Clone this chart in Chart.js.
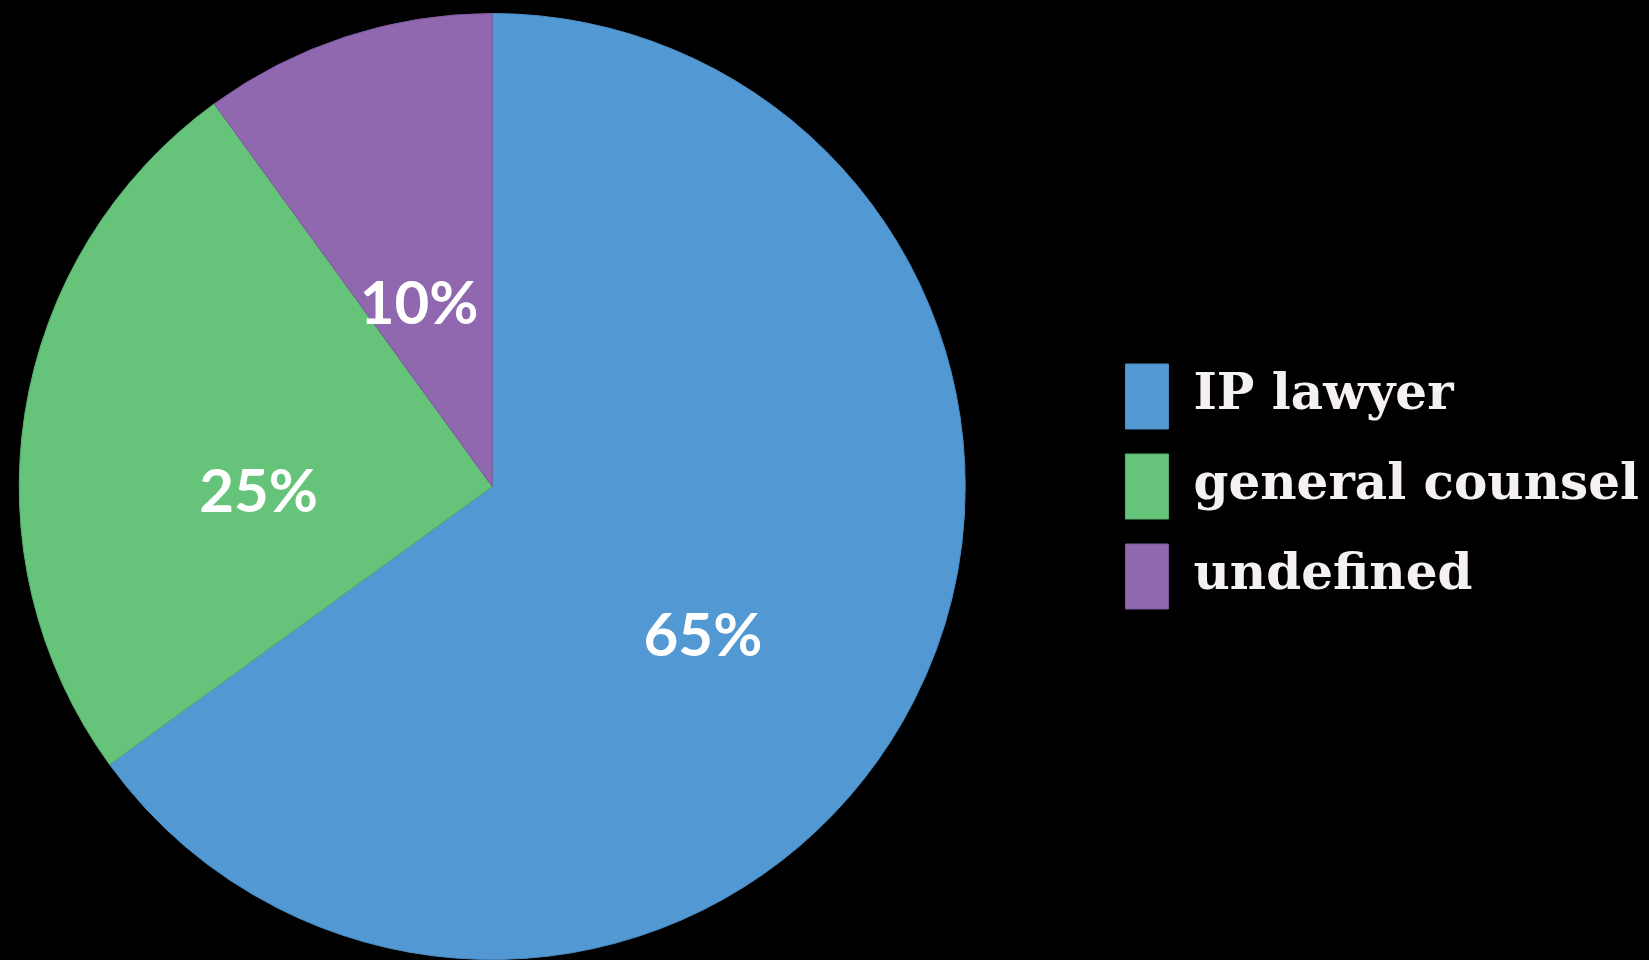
<!DOCTYPE html>
<html>
<head>
<meta charset="utf-8">
<script src="https://cdn.jsdelivr.net/npm/chart.js@4/dist/chart.umd.min.js"></script>
<style>
  html, body { margin: 0; padding: 0; background: #000; }
  #wrap { width: 1649px; height: 960px; position: relative; }
</style>
</head>
<body>
<div id="wrap"><canvas id="c"></canvas></div>
<script>
const categories = ["IP lawyer", "general counsel", "undefined"];
const values = [65, 25, 10];
const sliceColors = ["#5299d3", "#66c47a", "#9068b0"];
const borderColors = ["#4a8cc4", "#57b06b", "#7f5aa0"];

const pctLabels = {
  id: "pctLabels",
  afterDatasetsDraw(chart) {
    const ctx = chart.ctx;
    const meta = chart.getDatasetMeta(0);
    const total = values.reduce((a, b) => a + b, 0);
    ctx.save();
    ctx.fillStyle = "#ffffff";
    ctx.font = "bold 60px Lato";
    ctx.textAlign = "center";
    ctx.textBaseline = "middle";
    meta.data.forEach((arc, i) => {
      const p = arc.tooltipPosition();
      const txt = Math.round(values[i] / total * 100) + "%";
      ctx.fillText(txt, p.x, p.y + 43);
    });
    ctx.restore();
  }
};

new Chart(document.getElementById("c"), {
  type: "pie",
  data: {
    labels: categories,
    datasets: [{
      data: values,
      backgroundColor: sliceColors,
      borderColor: borderColors,
      borderWidth: 1
    }]
  },
  options: {
    responsive: true,
    maintainAspectRatio: false,
    animation: false,
    layout: { padding: { left: 0, right: 0, top: 13, bottom: 0 } },
    plugins: {
      tooltip: { enabled: false },
      title: {
        display: true,
        position: "right",
        text: "",
        padding: 0,
        font: { size: 100, lineHeight: 1.16 }
      },
      legend: {
        position: "right",
        align: "center",
        weight: 3000,
        maxWidth: 700,
        labels: {
          color: "#f6f1f1",
          font: { family: "DejaVu Serif", size: 50, weight: "bold" },
          boxWidth: 43,
          boxHeight: 65,
          padding: 25
        }
      }
    }
  },
  plugins: [pctLabels]
});
</script>
</body>
</html>
